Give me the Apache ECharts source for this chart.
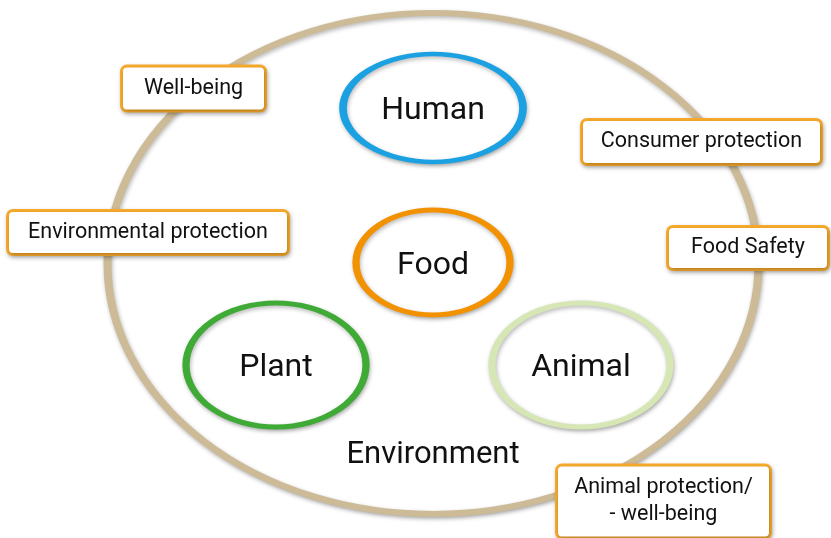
<!DOCTYPE html>
<html>
<head>
<meta charset="utf-8">
<script src="https://cdn.jsdelivr.net/npm/echarts@6/dist/echarts.min.js"></script>
<style>html,body{margin:0;padding:0;background:#fff}#c{width:831px;height:538px}</style>
</head>
<body>
<div id="c"></div>
<script>
// Diagram content
const outerName = 'Environment';
const outerX = 433, outerY = 263.5;
const outerLabelX = 433, outerLabelY = 455;

const circleNames = ['Human', 'Food', 'Plant', 'Animal'];
const circleX = [433, 433, 276, 581];
const circleY = [108, 262.5, 365, 365];

const boxLabels = ['Well-being', 'Consumer protection', 'Environmental protection', 'Food Safety', 'Animal protection/\n- well-being'];
const boxX = [193.5, 701.5, 148, 748, 663.5];
const boxY = [86.5, 140, 230.5, 246, 499.5];

// styles
const ellipsePath = 'path://M0,50A50,50,0,1,1,100,50A50,50,0,1,1,0,50Z';
const circleSizes = [[180, 108], [154, 105], [180, 124], [178, 124]];
const circleColors = ['#1BA1E2', '#F39200', '#3FAA35', '#D6E6B4'];
const boxSizes = [[141, 42], [237, 42], [278, 41], [158, 40], [211, 70]];
const FONT = 'Roboto, "Noto Sans", sans-serif';
const LINE_H = 27;

const chart = echarts.init(document.getElementById('c'), null, {renderer: 'canvas'});

const shadow = {shadowBlur: 4, shadowOffsetX: 1, shadowOffsetY: 2, shadowColor: 'rgba(0,0,0,0.28)'};

chart.setOption({
  animation: false,
  backgroundColor: '#fff',
  grid: {left: 0, right: 0, top: 0, bottom: 0},
  xAxis: {type: 'value', min: 0, max: 831, show: false},
  yAxis: {type: 'value', min: 0, max: 538, inverse: true, show: false},
  series: [
    {
      type: 'scatter', z: 1, silent: true,
      symbol: ellipsePath,
      symbolSize: [651, 501],
      itemStyle: Object.assign({color: '#fff', borderColor: '#CDBB97', borderWidth: 7, opacity: 1}, shadow),
      data: [[outerX, outerY]]
    },
    {
      type: 'scatter', z: 2, silent: true,
      symbol: ellipsePath,
      data: circleNames.map((n, i) => ({
        name: n,
        value: [circleX[i], circleY[i]],
        symbolSize: circleSizes[i],
        itemStyle: Object.assign({color: '#fff', borderColor: circleColors[i], borderWidth: 6, opacity: 1}, shadow)
      })),
      label: {show: true, position: 'inside', offset: [0, 3], formatter: '{b}', fontFamily: FONT, fontSize: 32, color: '#111'}
    },
    {
      type: 'scatter', z: 3, silent: true,
      symbolSize: 0,
      itemStyle: {opacity: 1},
      data: [{name: outerName, value: [outerLabelX, outerLabelY]}],
      label: {show: true, position: 'inside', formatter: '{b}', fontFamily: FONT, fontSize: 31, color: '#111'}
    },
    {
      type: 'scatter', z: 4, silent: true,
      symbolSize: 0,
      itemStyle: {opacity: 1},
      data: boxLabels.map((n, i) => {
        const lines = n.split('\n').length;
        const pv = (boxSizes[i][1] - lines * LINE_H) / 2;
        return {
          name: n,
          value: [boxX[i], boxY[i]],
          label: {width: boxSizes[i][0], padding: [pv, 0, pv, 0]}
        };
      }),
      label: Object.assign({
        show: true, position: 'inside', offset: [0, 2], formatter: '{b}', align: 'center',
        fontFamily: FONT, fontSize: 21.5, lineHeight: LINE_H, color: '#111',
        backgroundColor: '#fff', borderColor: '#F7AA2C', borderWidth: 3, borderRadius: 4
      }, shadow)
    }
  ]
});
</script>
</body>
</html>
